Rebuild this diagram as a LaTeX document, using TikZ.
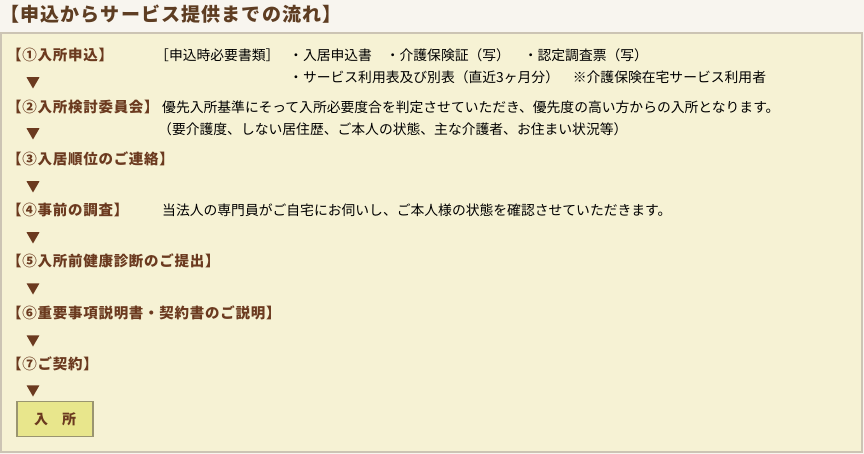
\documentclass[tikz,border=0pt]{standalone}
\usepackage{fontspec}
\setmainfont{Noto Sans CJK JP}
\usetikzlibrary{shapes.geometric}
\definecolor{pagebg}{HTML}{F8F5EF}
\definecolor{panelbg}{HTML}{F6F2D4}
\definecolor{panelrule}{HTML}{CCC4B4}
\definecolor{brn}{HTML}{6B3A1F}
\definecolor{ttlbrn}{HTML}{5E3D22}
\definecolor{goalbg}{HTML}{E8E68C}
\definecolor{goalrule}{HTML}{9A9570}
\tikzset{
  ttl/.style={anchor=west, inner sep=0pt, text=ttlbrn, font=\fontsize{19}{21}\selectfont\bfseries\addfontfeature{LetterSpace=6}},
  lbl/.style={anchor=west, inner sep=0pt, text=brn, font=\fontsize{14.5}{16}\selectfont\bfseries\addfontfeature{LetterSpace=5}},
  txt/.style={anchor=west, inner sep=0pt, text=black, font=\fontsize{13.8}{16}\selectfont},
  downtri/.style={regular polygon, regular polygon sides=3, shape border rotate=180, fill=brn, inner sep=0pt, minimum size=15pt},
  goalbox/.style={draw=goalrule, line width=1.2pt, fill=goalbg, text=brn, minimum width=76pt, minimum height=35pt, inner sep=0pt, font=\fontsize{14}{16}\selectfont\bfseries}
}
\begin{document}
\begin{tikzpicture}[x=1pt,y=-1pt]
  \fill[pagebg] (0,0) rectangle (864,454);
  \useasboundingbox (0,0) rectangle (864,454);
  \node[ttl] (title) at (0,14) {【申込からサービス提供までの流れ】};
  \draw[panelrule, line width=1.5pt, fill=panelbg] (1,33) rectangle (862,452);

  \node[lbl] (s1) at (7,55) {【①入所申込】};
  \node[txt] (docs) at (155,55) {［申込時必要書類］};
  \node[txt] (docsa) at (289,55) {・入居申込書　・介護保険証（写）　・認定調査票（写）};
  \node[txt] (docsb) at (289,77) {・サービス利用表及び別表（直近3ヶ月分）　※介護保険在宅サービス利用者};
  \node[downtri] (d1) at (33,81) {};

  \node[lbl] (s2) at (7,107) {【②入所検討委員会】};
  \node[txt] (s2a) at (162,107) {優先入所基準にそって入所必要度合を判定させていただき、優先度の高い方からの入所となります。};
  \node[txt] (s2b) at (158,129) {（要介護度、しない居住歴、ご本人の状態、主な介護者、お住まい状況等）};
  \node[downtri] (d2) at (33,132) {};

  \node[lbl] (s3) at (7,159) {【③入居順位のご連絡】};
  \node[downtri] (d3) at (33,185) {};

  \node[lbl] (s4) at (7,210) {【④事前の調査】};
  \node[txt] (s4a) at (162,210) {当法人の専門員がご自宅にお伺いし、ご本人様の状態を確認させていただきます。};
  \node[downtri] (d4) at (33,236) {};

  \node[lbl] (s5) at (7,261) {【⑤入所前健康診断のご提出】};
  \node[downtri] (d5) at (33,287) {};

  \node[lbl] (s6) at (7,313) {【⑥重要事項説明書・契約書のご説明】};
  \node[downtri] (d6) at (33,339) {};

  \node[lbl] (s7) at (7,364) {【⑦ご契約】};
  \node[downtri] (d7) at (33,389) {};

  \node[goalbox] (goal) at (55,419) {入　所};
\end{tikzpicture}
\end{document}
